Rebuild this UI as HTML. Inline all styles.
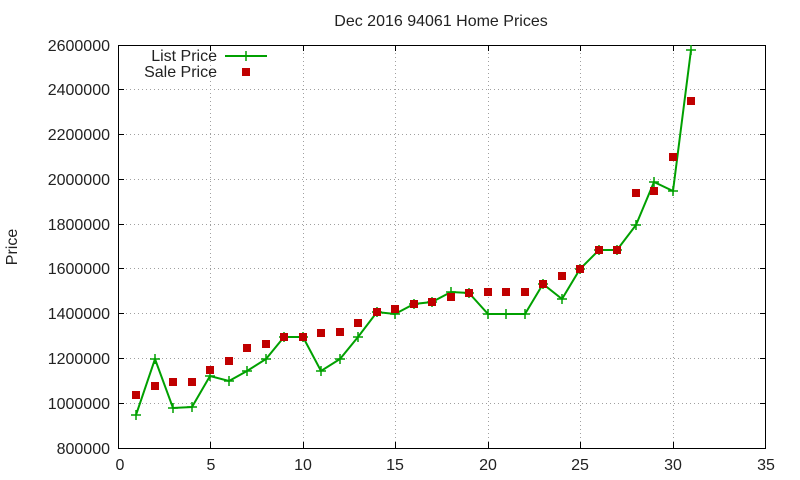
<!DOCTYPE html>
<html><head><meta charset="utf-8"><style>body{margin:0;background:#fff}svg{display:block}</style></head>
<body>
<svg width="800" height="480" xmlns="http://www.w3.org/2000/svg" font-family="Liberation Sans, sans-serif" font-size="16" fill="#222">
<rect width="800" height="480" fill="#fff"/>
<g stroke="#a0a0a0" stroke-width="1" stroke-dasharray="1,3">
<line x1="210.5" y1="45" x2="210.5" y2="448"/><line x1="303.5" y1="45" x2="303.5" y2="448"/><line x1="395.5" y1="45" x2="395.5" y2="448"/><line x1="488.5" y1="45" x2="488.5" y2="448"/><line x1="580.5" y1="45" x2="580.5" y2="448"/><line x1="673.5" y1="45" x2="673.5" y2="448"/>
<line x1="118" y1="403.5" x2="766" y2="403.5"/><line x1="118" y1="358.5" x2="766" y2="358.5"/><line x1="118" y1="313.5" x2="766" y2="313.5"/><line x1="118" y1="268.5" x2="766" y2="268.5"/><line x1="118" y1="224.5" x2="766" y2="224.5"/><line x1="118" y1="179.5" x2="766" y2="179.5"/><line x1="118" y1="134.5" x2="766" y2="134.5"/><line x1="118" y1="89.5" x2="766" y2="89.5"/>
</g>
<rect x="118.5" y="45.5" width="647" height="403" fill="none" stroke="#000"/>
<g stroke="#000">
<line x1="210.5" y1="448" x2="210.5" y2="442"/><line x1="303.5" y1="448" x2="303.5" y2="442"/><line x1="395.5" y1="448" x2="395.5" y2="442"/><line x1="488.5" y1="448" x2="488.5" y2="442"/><line x1="580.5" y1="448" x2="580.5" y2="442"/><line x1="673.5" y1="448" x2="673.5" y2="442"/>
<line x1="210.5" y1="45" x2="210.5" y2="51"/><line x1="303.5" y1="45" x2="303.5" y2="51"/><line x1="395.5" y1="45" x2="395.5" y2="51"/><line x1="488.5" y1="45" x2="488.5" y2="51"/><line x1="580.5" y1="45" x2="580.5" y2="51"/><line x1="673.5" y1="45" x2="673.5" y2="51"/>
<line x1="118" y1="403.5" x2="124" y2="403.5"/><line x1="118" y1="358.5" x2="124" y2="358.5"/><line x1="118" y1="313.5" x2="124" y2="313.5"/><line x1="118" y1="268.5" x2="124" y2="268.5"/><line x1="118" y1="224.5" x2="124" y2="224.5"/><line x1="118" y1="179.5" x2="124" y2="179.5"/><line x1="118" y1="134.5" x2="124" y2="134.5"/><line x1="118" y1="89.5" x2="124" y2="89.5"/>
<line x1="766" y1="403.5" x2="760" y2="403.5"/><line x1="766" y1="358.5" x2="760" y2="358.5"/><line x1="766" y1="313.5" x2="760" y2="313.5"/><line x1="766" y1="268.5" x2="760" y2="268.5"/><line x1="766" y1="224.5" x2="760" y2="224.5"/><line x1="766" y1="179.5" x2="760" y2="179.5"/><line x1="766" y1="134.5" x2="760" y2="134.5"/><line x1="766" y1="89.5" x2="760" y2="89.5"/>
</g>
<g text-anchor="end">
<text x="110" y="454">800000</text><text x="110" y="409">1000000</text><text x="110" y="364">1200000</text><text x="110" y="319">1400000</text><text x="110" y="274">1600000</text><text x="110" y="230">1800000</text><text x="110" y="185">2000000</text><text x="110" y="140">2200000</text><text x="110" y="95">2400000</text><text x="110" y="51">2600000</text>
</g>
<g text-anchor="middle">
<text x="120" y="470">0</text><text x="211" y="470">5</text><text x="303" y="470">10</text><text x="395" y="470">15</text><text x="488" y="470">20</text><text x="580" y="470">25</text><text x="673" y="470">30</text><text x="766" y="470">35</text>
<text x="441" y="26">Dec 2016 94061 Home Prices</text>
<text transform="translate(17,247) rotate(-90)">Price</text>
</g>
<text x="217" y="61" text-anchor="end">List Price</text>
<text x="217" y="77" text-anchor="end">Sale Price</text>
<line x1="225" y1="56" x2="267" y2="56" stroke="#00a000" stroke-width="2"/>
<path d="M241 56h10M246 51v10" stroke="#00a000" stroke-width="1.5"/>
<rect x="242" y="68" width="8" height="8" fill="#c00000"/>
<polyline fill="none" stroke="#00a000" stroke-width="2" points="136,415 155,359 173,408 192,407 210,376 229,381 247,371 266,359 284,337 303,337 321,371 340,359 358,337 377,312 395,314 414,304 432,302 451,292 469,293 488,314 506,314 525,314 543,284 562,299 580,269 599,250 617,250 636,225 654,182 673,191 691,50"/>
<g stroke="#00a000" stroke-width="1.5">
<path d="M131 415h10M136 410v10M150 359h10M155 354v10M168 408h10M173 403v10M187 407h10M192 402v10M205 376h10M210 371v10M224 381h10M229 376v10M242 371h10M247 366v10M261 359h10M266 354v10M279 337h10M284 332v10M298 337h10M303 332v10M316 371h10M321 366v10M335 359h10M340 354v10M353 337h10M358 332v10M372 312h10M377 307v10M390 314h10M395 309v10M409 304h10M414 299v10M427 302h10M432 297v10M446 292h10M451 287v10M464 293h10M469 288v10M483 314h10M488 309v10M501 314h10M506 309v10M520 314h10M525 309v10M538 284h10M543 279v10M557 299h10M562 294v10M575 269h10M580 264v10M594 250h10M599 245v10M612 250h10M617 245v10M631 225h10M636 220v10M649 182h10M654 177v10M668 191h10M673 186v10M686 50h10M691 45v10"/>
</g>
<g fill="#c00000">
<rect x="132" y="391" width="8" height="8"/><rect x="151" y="382" width="8" height="8"/><rect x="169" y="378" width="8" height="8"/><rect x="188" y="378" width="8" height="8"/><rect x="206" y="366" width="8" height="8"/><rect x="225" y="357" width="8" height="8"/><rect x="243" y="344" width="8" height="8"/><rect x="262" y="340" width="8" height="8"/><rect x="280" y="333" width="8" height="8"/><rect x="299" y="333" width="8" height="8"/><rect x="317" y="329" width="8" height="8"/><rect x="336" y="328" width="8" height="8"/><rect x="354" y="319" width="8" height="8"/><rect x="373" y="308" width="8" height="8"/><rect x="391" y="305" width="8" height="8"/><rect x="410" y="300" width="8" height="8"/><rect x="428" y="298" width="8" height="8"/><rect x="447" y="293" width="8" height="8"/><rect x="465" y="289" width="8" height="8"/><rect x="484" y="288" width="8" height="8"/><rect x="502" y="288" width="8" height="8"/><rect x="521" y="288" width="8" height="8"/><rect x="539" y="280" width="8" height="8"/><rect x="558" y="272" width="8" height="8"/><rect x="576" y="265" width="8" height="8"/><rect x="595" y="246" width="8" height="8"/><rect x="613" y="246" width="8" height="8"/><rect x="632" y="189" width="8" height="8"/><rect x="650" y="187" width="8" height="8"/><rect x="669" y="153" width="8" height="8"/><rect x="687" y="97" width="8" height="8"/>
</g>
</svg>
</body></html>
